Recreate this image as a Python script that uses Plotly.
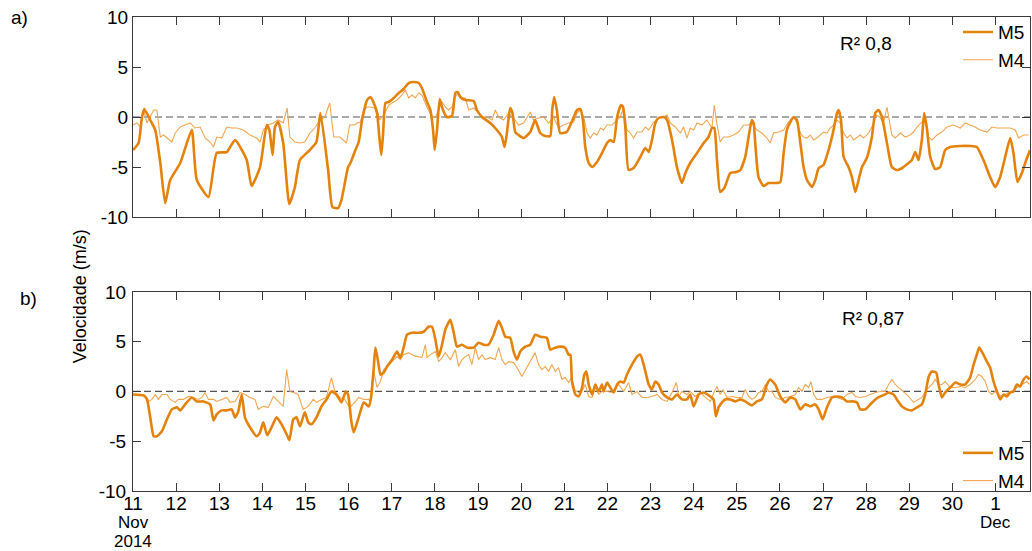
import pandas as pd
import plotly.graph_objects as go

# Hourly offsets from 2014-11-11 00:00 and wind speed (m/s)
START = pd.Timestamp("2014-11-11")
END_HOURS = 499.2

m5_a = [(0, -3.3), (3.1, -2.6), (5.0, 0.0), (6.3, 0.8), (9.6, -0.3), (12.4, -1.3), (15.2, -4.6), (17.9, -8.6),
        (20.7, -6.3), (26.3, -4.6), (32.7, -1.3), (35.5, -6.3), (42.0, -8.0), (46.6, -3.6), (52.2, -3.5),
        (56.8, -2.3), (63.3, -4.3), (66.0, -6.9), (70.7, -5.0), (74.4, -0.8), (75.9, -1.3), (77.7, -3.8),
        (79.0, -1.0), (80.8, -0.5), (83.6, -2.6), (87.0, -8.7), (90.1, -7.0), (92.9, -4.3), (98.4, -3.3),
        (102.1, -2.5), (104.3, 0.4), (108.6, -5.3), (111.0, -9.0), (114.1, -9.1), (116.0, -8.3), (119.7, -5.0),
        (121.0, -4.6), (123.8, -3.3), (125.6, -2.5), (127.5, -0.3), (130.3, 1.7), (132.1, 2.0), (134.0, 1.4),
        (135.8, 0.4), (137.1, -2.0), (138.2, -3.8), (139.2, -1.6), (140.5, 1.4), (142.3, 1.5), (145.1, 1.9),
        (147.9, 2.4), (150.6, 2.8), (153.4, 3.4), (156.2, 3.5), (159.0, 3.4), (160.8, 2.9), (163.2, 1.7),
        (165.5, 0.7), (167.0, -1.3), (167.9, -3.3), (169.2, -1.3), (170.7, 1.8), (172.5, 0.7), (174.7, 0.0),
        (177.5, 0.1), (179.4, 2.4), (180.7, 2.5), (182.1, 2.0), (184.9, 1.7), (189.6, 1.6), (191.4, 0.7),
        (194.2, 0.0), (198.8, -0.6), (202.5, -1.3), (205.3, -2.0), (206.8, -3.0), (208.1, -1.6), (209.9, 0.9),
        (211.2, 0.4), (212.7, -1.5), (214.6, -1.8), (217.4, -2.1), (221.1, -1.5), (223.8, -0.3), (226.6, -1.6),
        (229.4, -1.9), (232.2, -1.9), (233.3, 0.7), (234.4, 2.0), (235.9, 0.7), (237.7, -1.6), (241.4, -1.5),
        (243.4, -0.8), (245.3, 0.0), (247.1, 0.7), (249.0, 0.8), (250.4, -0.3), (251.7, -3.0), (253.6, -4.6),
        (255.5, -5.0), (258.2, -4.5), (261.0, -3.6), (263.8, -2.6), (265.6, -2.3), (267.5, -2.5), (269.4, 0.0),
        (271.6, 1.2), (272.7, 1.0), (274.0, -1.0), (275.8, -5.3), (278.6, -5.1), (282.3, -4.0), (285.1, -3.1),
        (287.0, -3.5), (288.8, -2.3), (290.7, -0.6), (292.5, -0.1), (295.3, 0.0), (297.2, -0.3), (300.0, -2.3),
        (302.7, -5.0), (305.5, -6.6), (307.4, -5.6), (310.1, -4.6), (313.9, -3.6), (317.6, -2.6), (320.3, -2.0),
        (322.2, -1.1), (323.5, -1.1), (325.0, -4.3), (326.8, -7.5), (329.1, -7.1), (332.4, -5.6), (335.7, -5.5),
        (338.0, -5.3), (340.7, -4.0), (342.6, -2.0), (344.4, -0.3), (345.4, -0.6), (346.3, -2.6), (348.1, -6.0),
        (350.9, -6.9), (353.7, -6.6), (357.4, -6.6), (360.2, -6.5), (362.1, -3.6), (363.9, -1.3), (365.8, -0.5),
        (367.7, 0.0), (369.5, -0.3), (371.4, -2.6), (373.2, -5.0), (375.1, -6.3), (377.9, -7.0), (379.7, -6.3),
        (381.6, -5.1), (384.3, -4.8), (387.1, -3.3), (389.5, -1.6), (391.8, 0.4), (392.7, 0.7), (394.0, -0.3),
        (395.5, -4.0), (398.2, -5.0), (400.1, -6.0), (402.0, -7.5), (403.8, -6.3), (405.7, -5.0), (408.4, -4.1),
        (411.2, -2.0), (413.1, 0.4), (414.9, 0.7), (416.8, 0.0), (419.6, -2.6), (422.3, -5.0), (425.1, -5.3),
        (428.8, -5.0), (431.6, -4.6), (433.5, -4.3), (435.3, -3.5), (437.2, -4.3), (439.0, -2.3), (440.3, 0.4),
        (441.8, -1.1), (443.7, -4.0), (446.4, -5.2), (449.2, -5.0), (452.0, -3.3), (454.8, -3.0), (460.4, -2.9),
        (465.9, -2.9), (469.6, -3.0), (473.3, -4.3), (477.0, -6.0), (479.8, -7.0), (482.6, -6.0), (485.4, -4.0),
        (488.2, -2.1), (490.0, -3.6), (492.2, -6.5), (494.7, -5.6), (497.1, -4.3), (499.3, -3.3)]

m4_a = [(0, -0.8), (2.2, -0.6), (4.1, -1.0), (5.9, 0.7), (7.8, -0.6), (9.6, 0.0), (11.5, 0.7), (13.3, 0.7),
        (15.2, -2.0), (17.0, -1.8), (18.9, -2.1), (21.6, -2.5), (23.5, -1.6), (26.3, -1.0), (29.0, -0.8),
        (31.8, -0.6), (34.6, -1.1), (37.4, -1.0), (40.1, -2.1), (42.9, -2.5), (44.8, -3.0), (46.6, -2.0),
        (49.4, -2.1), (52.2, -1.0), (54.9, -1.1), (57.7, -1.1), (61.4, -1.3), (65.1, -1.8), (68.8, -2.1),
        (70.7, -2.5), (72.5, -1.3), (75.3, -0.8), (78.1, -0.6), (80.8, -0.3), (83.6, -0.6), (85.8, 0.9),
        (87.3, -2.0), (90.1, -2.5), (92.9, -2.6), (95.6, -2.5), (98.4, -1.6), (101.2, -1.1), (104.0, -0.3),
        (106.7, 0.0), (109.5, 1.4), (111.7, -2.0), (115.1, -2.0), (118.8, -2.6), (120.6, -0.8), (123.4, -0.8),
        (124.7, -0.6), (126.6, -0.5), (128.4, 0.7), (130.3, 1.0), (132.1, 1.0), (134.0, 0.9), (135.8, 0.7),
        (137.3, -0.3), (138.6, 0.0), (140.5, 0.5), (142.3, 1.2), (144.2, 1.4), (146.9, 1.7), (149.7, 2.2),
        (151.6, 2.7), (153.4, 1.9), (155.3, 2.2), (157.1, 1.9), (159.0, 2.4), (160.8, 2.2), (163.6, 1.0),
        (166.4, 0.0), (168.3, 0.0), (170.1, 0.7), (172.0, 1.5), (173.8, 1.0), (175.7, 0.7), (177.5, 1.0),
        (179.4, 2.0), (181.2, 2.4), (183.1, 1.9), (184.9, 1.9), (186.8, 0.7), (189.6, 0.9), (192.3, 0.4),
        (194.2, 0.0), (197.0, 0.0), (199.8, -0.3), (201.6, 0.7), (203.5, 0.0), (206.2, -0.3), (209.0, 0.4),
        (211.8, -0.1), (214.6, -0.8), (217.4, -0.6), (221.1, 0.5), (222.9, -0.3), (225.7, -0.1), (228.5, 0.0),
        (231.3, -0.6), (234.0, 0.0), (236.8, -1.1), (239.6, -0.8), (242.4, -0.6), (245.2, -0.5), (247.1, 0.4),
        (249.0, 0.7), (250.8, 0.0), (252.7, -1.6), (254.5, -2.1), (256.4, -1.6), (258.2, -1.8), (260.1, -1.1),
        (261.9, -1.3), (263.8, -0.8), (266.6, -0.8), (269.4, -0.3), (271.2, 0.0), (273.1, 1.0), (274.9, -1.3),
        (276.8, -1.6), (278.6, -2.1), (280.5, -1.5), (283.3, -1.5), (285.1, -1.0), (287.0, -1.3), (289.8, -0.5),
        (292.5, -0.1), (295.3, 0.0), (297.2, 0.2), (299.0, -0.6), (301.8, -1.0), (304.6, -1.6), (306.4, -1.0),
        (308.3, -2.1), (310.1, -1.1), (312.0, -1.3), (313.9, -0.6), (316.6, -0.8), (319.4, -0.3), (322.2, -1.1),
        (323.5, 1.2), (324.6, -0.3), (326.8, -2.5), (328.7, -2.0), (331.5, -2.0), (334.2, -1.8), (337.0, -1.5),
        (339.8, -0.8), (342.6, -0.8), (344.4, -0.6), (347.2, -1.3), (350.0, -1.6), (352.8, -2.1), (354.6, -2.6),
        (356.5, -1.6), (359.3, -1.5), (362.1, -1.3), (364.8, -0.5), (367.6, 0.0), (369.5, -0.6), (371.4, -1.6),
        (373.2, -2.0), (375.1, -2.1), (376.9, -1.8), (378.8, -2.3), (380.6, -2.1), (382.5, -1.8), (384.3, -1.5),
        (386.2, -1.6), (388.0, -1.1), (389.9, -0.8), (391.8, -0.3), (393.6, -0.6), (395.5, -1.6), (397.3, -2.1),
        (399.2, -1.8), (401.0, -2.3), (402.9, -2.0), (404.7, -1.8), (406.6, -2.1), (409.4, -1.6), (411.8, -0.8),
        (413.6, 0.2), (415.5, 0.0), (417.7, -0.6), (419.6, 1.0), (420.7, -0.3), (422.3, -1.8), (424.2, -2.1),
        (427.0, -1.6), (429.8, -2.0), (432.5, -1.8), (434.4, -1.5), (436.3, -1.0), (439.0, -0.5), (440.9, 0.0),
        (442.7, -2.0), (444.6, -2.3), (447.4, -1.8), (450.2, -1.5), (452.9, -1.0), (456.6, -0.8), (460.4, -1.1),
        (463.1, -0.6), (465.9, -0.8), (468.7, -1.0), (471.5, -1.3), (475.2, -1.5), (478.0, -1.0), (480.8, -1.1),
        (484.5, -1.1), (488.2, -1.1), (491.0, -1.3), (492.8, -2.1), (495.6, -1.8), (498.4, -1.8)]

m5_b = [(0, -0.3), (5.9, -0.4), (7.8, -0.8), (9.6, -2.6), (11.5, -4.5), (13.3, -4.5), (16.1, -4.0), (18.9, -2.8),
        (21.6, -1.8), (24.4, -1.6), (26.3, -1.9), (29.0, -1.3), (32.7, -0.6), (35.5, -1.0), (39.2, -1.0),
        (42.9, -1.3), (44.8, -2.9), (46.6, -2.3), (49.4, -1.9), (52.2, -1.9), (54.9, -1.8), (56.8, -2.6),
        (58.6, -2.0), (60.5, -0.3), (62.3, -2.6), (65.1, -3.6), (68.8, -4.5), (70.7, -4.1), (72.5, -3.1),
        (74.7, -4.4), (77.1, -3.6), (79.9, -2.6), (82.7, -3.3), (85.5, -4.3), (87.0, -4.9), (89.2, -2.8),
        (91.0, -2.6), (92.9, -3.5), (95.6, -2.1), (97.5, -3.1), (99.3, -3.3), (102.1, -2.6), (104.9, -1.5),
        (107.7, -0.8), (110.4, 0.0), (113.2, -0.3), (116.0, -1.1), (118.4, 0.0), (119.7, -0.3), (121.5, -3.0),
        (122.8, -4.1), (125.6, -2.6), (128.4, -1.1), (131.2, -1.5), (132.5, -0.6), (134.0, 2.4), (134.9, 4.4),
        (136.4, 3.0), (137.7, 1.7), (139.5, 1.9), (141.4, 2.5), (144.2, 3.2), (146.9, 4.0), (148.8, 3.4),
        (150.6, 4.4), (152.5, 5.7), (155.3, 5.9), (159.0, 5.9), (161.8, 6.0), (164.5, 6.5), (166.4, 6.5),
        (168.3, 5.2), (170.1, 3.5), (172.0, 4.7), (173.8, 6.2), (176.6, 7.2), (178.4, 6.0), (180.3, 4.5),
        (183.1, 4.7), (185.9, 4.4), (189.6, 4.4), (192.3, 4.9), (195.1, 4.7), (197.9, 4.7), (200.7, 5.7),
        (203.5, 7.1), (205.3, 6.4), (207.2, 5.5), (209.9, 5.4), (211.8, 4.0), (213.7, 3.2), (215.5, 4.0),
        (218.3, 4.5), (221.1, 4.7), (223.8, 5.7), (226.6, 5.5), (230.3, 5.4), (232.2, 4.2), (235.0, 4.4),
        (237.7, 4.5), (240.5, 4.4), (242.4, 3.7), (243.4, 3.7), (244.3, 1.0), (246.2, -0.3), (248.0, -0.5),
        (249.9, 0.4), (251.2, 1.7), (252.3, 2.0), (253.6, 0.7), (255.5, -0.3), (257.3, 0.7), (259.2, 0.0),
        (261.0, 0.7), (261.9, 0.0), (263.8, 0.9), (265.6, 0.4), (267.5, -0.1), (269.4, 0.7), (271.2, 1.0),
        (273.1, 0.9), (274.9, 1.7), (277.7, 2.7), (280.5, 3.5), (282.3, 3.7), (284.2, 2.7), (287.0, 0.7),
        (288.8, 0.2), (290.7, 1.0), (292.5, 0.7), (294.4, -0.1), (297.2, -0.6), (300.0, -0.8), (302.7, -0.3),
        (305.5, -0.8), (308.3, -0.8), (310.1, -0.3), (312.0, -1.5), (314.8, -0.3), (317.6, -0.1), (321.3, -0.5),
        (323.1, -0.8), (324.4, -2.5), (325.9, -1.6), (327.8, -1.1), (329.6, -0.8), (332.4, -0.8), (335.2, -1.0),
        (338.0, -0.8), (340.7, -1.0), (344.4, -1.4), (347.2, -1.0), (350.0, -0.8), (352.8, 0.7), (354.6, 1.2),
        (357.4, 0.7), (360.2, -0.5), (363.0, -1.1), (365.8, -0.6), (368.6, -0.8), (371.4, -1.8), (374.1, -1.3),
        (376.9, -1.5), (379.7, -1.3), (381.6, -1.8), (383.8, -2.8), (386.2, -1.6), (389.0, -0.6), (391.8, -0.5),
        (394.5, -0.6), (397.3, -1.0), (400.1, -1.0), (402.9, -1.1), (404.7, -1.8), (407.5, -1.8), (410.3, -1.3),
        (413.1, -0.8), (415.9, -0.5), (418.6, -0.3), (420.5, -0.1), (423.3, -0.3), (425.1, -0.8), (427.9, -1.5),
        (430.7, -1.8), (433.5, -1.9), (436.3, -1.6), (439.0, -1.3), (440.9, -0.3), (442.7, 1.4), (444.6, 2.0),
        (447.0, 1.9), (448.3, 0.7), (450.2, -0.6), (452.0, -0.1), (454.8, 0.4), (457.6, 0.9), (460.4, 0.7),
        (463.1, 0.7), (465.9, 1.4), (467.8, 2.7), (469.6, 3.7), (470.9, 4.4), (472.4, 4.0), (475.2, 3.0),
        (477.0, 2.4), (478.9, 1.0), (480.8, 0.0), (482.6, -0.8), (484.5, -0.3), (486.3, -0.5), (488.2, -0.1),
        (490.0, 0.0), (491.9, 0.7), (493.7, 0.5), (495.6, 1.2), (497.4, 1.5), (498.9, 1.2)]

m4_b = [(0, -0.3), (3.1, -0.3), (5.9, -0.3), (8.7, -1.0), (10.5, -0.8), (12.4, -0.3), (14.2, -0.8), (16.1, -0.3),
        (18.9, -0.3), (20.7, -0.8), (23.5, -1.1), (25.3, -0.8), (28.1, -0.8), (30.9, -0.5), (33.7, -0.6),
        (36.4, -0.8), (38.3, -0.6), (40.1, -0.1), (42.0, -0.8), (44.8, -0.8), (46.6, -1.0), (49.4, -0.8),
        (52.2, -0.6), (54.0, -1.1), (56.8, -1.0), (59.6, -0.1), (62.3, -0.3), (65.1, -0.6), (67.9, -0.8),
        (69.7, -1.8), (72.5, -1.5), (75.3, -1.6), (78.1, -0.5), (80.8, -1.0), (83.6, -1.5), (85.5, 2.2),
        (87.3, 0.0), (89.5, -0.1), (91.9, -0.3), (94.7, -1.8), (97.5, -1.5), (100.3, -0.8), (102.1, -1.1),
        (104.9, -0.8), (107.7, -0.6), (110.4, 1.4), (112.3, 0.0), (115.1, -0.6), (117.8, -0.8), (120.6, -1.6),
        (123.4, -1.1), (125.6, -0.6), (128.4, -0.8), (131.2, -0.8), (132.1, -1.1), (133.0, 1.0), (134.0, 2.0),
        (135.8, 0.4), (137.7, 1.0), (139.5, 2.2), (141.4, 2.5), (144.2, 3.0), (146.9, 3.5), (148.8, 3.2),
        (150.6, 3.7), (153.4, 3.9), (156.2, 3.6), (159.0, 3.5), (160.8, 3.4), (162.7, 4.7), (163.6, 3.4),
        (165.5, 3.7), (168.3, 4.0), (170.1, 3.0), (172.0, 3.4), (173.8, 3.9), (176.6, 3.2), (179.4, 4.2),
        (181.2, 2.5), (183.1, 3.2), (184.9, 3.5), (186.8, 3.7), (188.6, 2.7), (190.5, 4.4), (192.3, 3.2),
        (194.2, 3.7), (196.0, 3.2), (198.8, 3.4), (201.6, 3.2), (203.5, 4.4), (205.3, 3.2), (207.2, 2.7),
        (209.0, 3.0), (211.8, 2.9), (213.7, 2.4), (216.4, 1.5), (219.2, 2.4), (222.0, 3.2), (223.8, 3.9),
        (225.7, 2.7), (227.5, 2.2), (229.4, 2.5), (231.3, 2.0), (233.1, 2.7), (235.0, 2.0), (236.8, 2.4),
        (238.7, 1.2), (240.5, 1.4), (242.4, 0.9), (244.2, 1.4), (246.1, 0.0), (247.1, 0.0), (249.0, -0.3),
        (251.7, 0.7), (253.6, -0.5), (255.5, -0.6), (257.3, 0.4), (259.2, -0.3), (261.0, 0.0), (263.8, 0.0),
        (266.6, -0.1), (268.4, 0.4), (270.3, 0.7), (273.1, 0.0), (275.8, 0.9), (277.7, -0.3), (280.5, 0.0),
        (283.3, -0.6), (286.0, -0.6), (288.8, -0.5), (291.6, -0.3), (294.4, -0.8), (297.2, -1.0), (300.0, -0.1),
        (302.4, 0.9), (303.7, -0.5), (305.5, 0.0), (308.3, -0.3), (310.1, 0.0), (312.9, -0.5), (315.7, -0.1),
        (318.5, -0.6), (321.3, -1.0), (323.5, 0.0), (325.0, 0.5), (326.8, -0.3), (328.3, 0.2), (330.5, -0.6),
        (333.3, -0.5), (336.1, -0.6), (338.9, -0.6), (340.7, 0.2), (342.6, -0.5), (344.4, -0.8), (346.3, -0.6),
        (348.2, -0.1), (350.0, 0.0), (351.9, 0.7), (353.7, 0.0), (355.6, 0.0), (357.4, -0.6), (360.2, -0.8),
        (363.0, -0.6), (365.8, -0.5), (368.6, -0.3), (370.4, 0.4), (372.3, 0.0), (374.1, 0.7), (376.0, 0.4),
        (377.3, 1.0), (378.8, -0.3), (380.6, -0.8), (383.4, -0.8), (386.2, -0.6), (389.0, -0.5), (391.8, -0.6),
        (394.5, -0.8), (397.3, -0.3), (400.1, -0.1), (402.0, -0.5), (404.7, -0.6), (407.5, -0.5), (410.3, -0.3),
        (413.1, -0.1), (415.9, 0.0), (418.6, 0.0), (420.5, 0.7), (422.3, 1.2), (424.2, 0.7), (426.1, 0.4),
        (428.8, -0.1), (431.6, -0.5), (434.4, -1.1), (437.2, -0.8), (439.0, -0.6), (441.8, 0.2), (444.6, 0.7),
        (446.4, 1.2), (448.3, 0.7), (450.2, 0.7), (452.0, 1.0), (454.8, 0.4), (457.6, 0.4), (460.4, 0.5),
        (463.1, 0.4), (465.9, 0.7), (468.7, 1.2), (470.5, 1.7), (472.4, 1.5), (474.3, 1.0), (476.1, 0.0),
        (478.0, -0.3), (479.8, 0.0), (481.7, -0.3), (483.5, -0.5), (485.4, -0.3), (487.2, -0.1), (489.1, 0.0),
        (491.9, 0.4), (494.7, 0.7), (497.4, 1.0), (498.9, 0.7)]

tick_days = pd.date_range("2014-11-11", "2014-12-01", freq="D")
tick_text = [str(d.day) for d in tick_days]
y_ticks = [-10, -5, 0, 5, 10]
y_tick_text = ["-10", "-5", "0", "5", "10"]
r2_labels = ["R² 0,8", "R² 0,87"]

FONT = "Liberation Sans, Arial, sans-serif"
C_M5 = "#E3820D"
C_M4 = "#F2A651"
AXC = "#3a3a3a"


def to_xy(series):
    x = [START + pd.Timedelta(hours=h) for h, _ in series]
    y = [v for _, v in series]
    return x, y


fig = go.Figure()

panels = [("x", "y", "legend", m5_a, m4_a), ("x2", "y2", "legend2", m5_b, m4_b)]
for xa, ya, lg, m5, m4 in panels:
    x4, y4 = to_xy(m4)
    fig.add_trace(go.Scatter(x=x4, y=y4, name="M4", mode="lines", xaxis=xa, yaxis=ya,
                             legend=lg, legendrank=2,
                             line=dict(color=C_M4, width=1.1)))
    x5, y5 = to_xy(m5)
    fig.add_trace(go.Scatter(x=x5, y=y5, name="M5", mode="lines", xaxis=xa, yaxis=ya,
                             legend=lg, legendrank=1,
                             line=dict(color=C_M5, width=2.6, shape="spline", smoothing=0.5)))

x_range = [START, START + pd.Timedelta(hours=END_HOURS)]
axis_common = dict(showline=True, linecolor=AXC, linewidth=1, mirror="ticks",
                   ticks="inside", ticklen=8, tickwidth=1, tickcolor=AXC,
                   showgrid=False, zeroline=False,
                   tickfont=dict(family=FONT, size=19, color="black"))

fig.update_layout(
    width=1032, height=551,
    margin=dict(l=133, r=2, t=17, b=60),
    plot_bgcolor="white", paper_bgcolor="white",
    font=dict(family=FONT, size=19, color="black"),
    xaxis=dict(domain=[0, 1], anchor="y", range=x_range, tickvals=list(tick_days),
               showticklabels=False, **axis_common),
    xaxis2=dict(domain=[0, 1], anchor="y2", range=x_range, tickvals=list(tick_days),
                ticktext=tick_text, ticklabelstandoff=-5, **axis_common),
    yaxis=dict(domain=[0.578, 1], anchor="x", range=[-10, 10], tickvals=y_ticks,
               ticktext=y_tick_text, **axis_common),
    yaxis2=dict(domain=[0, 0.42], anchor="x2", range=[-10, 10], tickvals=y_ticks,
                ticktext=y_tick_text, ticklabelstandoff=2, **axis_common),
    legend=dict(x=1, y=1.008, xanchor="right", yanchor="top", bgcolor="rgba(0,0,0,0)",
                font=dict(family=FONT, size=19), tracegroupgap=0),
    legend2=dict(x=1, y=-0.019, xanchor="right", yanchor="bottom", bgcolor="rgba(0,0,0,0)",
                 font=dict(family=FONT, size=19), tracegroupgap=0),
    showlegend=True,
)

# dashed zero reference in both panels
for xr, yr in [("x domain", "y"), ("x2 domain", "y2")]:
    fig.add_shape(type="line", xref=xr, yref=yr, x0=0, x1=1, y0=0, y1=0,
                  line=dict(color="#555555", width=1.2, dash="7px,4px"), layer="below")

# R² labels
fig.add_annotation(text=r2_labels[0], xref="paper", yref="paper", x=0.817, y=0.944,
                   showarrow=False, xanchor="center", yanchor="middle", font=dict(size=19))
fig.add_annotation(text=r2_labels[1], xref="paper", yref="paper", x=0.825, y=0.363,
                   showarrow=False, xanchor="center", yanchor="middle", font=dict(size=19))

# panel letters and shared y title
fig.add_annotation(text="a)", xref="paper", yref="paper", x=-0.126, y=0.998,
                   showarrow=False, xanchor="center", yanchor="middle", font=dict(size=19))
fig.add_annotation(text="b)", xref="paper", yref="paper", x=-0.117, y=0.407,
                   showarrow=False, xanchor="center", yanchor="middle", font=dict(size=19))
fig.add_annotation(text="Velocidade (m/s)", xref="paper", yref="paper", x=-0.059, y=0.411,
                   showarrow=False, textangle=-90, xanchor="center", yanchor="middle",
                   font=dict(size=18))

# month / year lines under the day numbers
sub_font = dict(size=17)
fig.add_annotation(text="Nov", xref="x2", yref="paper", x=tick_days[0], y=-0.0665,
                   showarrow=False, xanchor="center", yanchor="middle", font=sub_font, borderpad=0)
fig.add_annotation(text="2014", xref="x2", yref="paper", x=tick_days[0], y=-0.1055,
                   showarrow=False, xanchor="center", yanchor="middle", font=sub_font, borderpad=0)
fig.add_annotation(text="Dec", xref="x2", yref="paper", x=tick_days[-1], y=-0.0665,
                   showarrow=False, xanchor="center", yanchor="middle", font=sub_font, borderpad=0)

fig.write_html("out.html")
